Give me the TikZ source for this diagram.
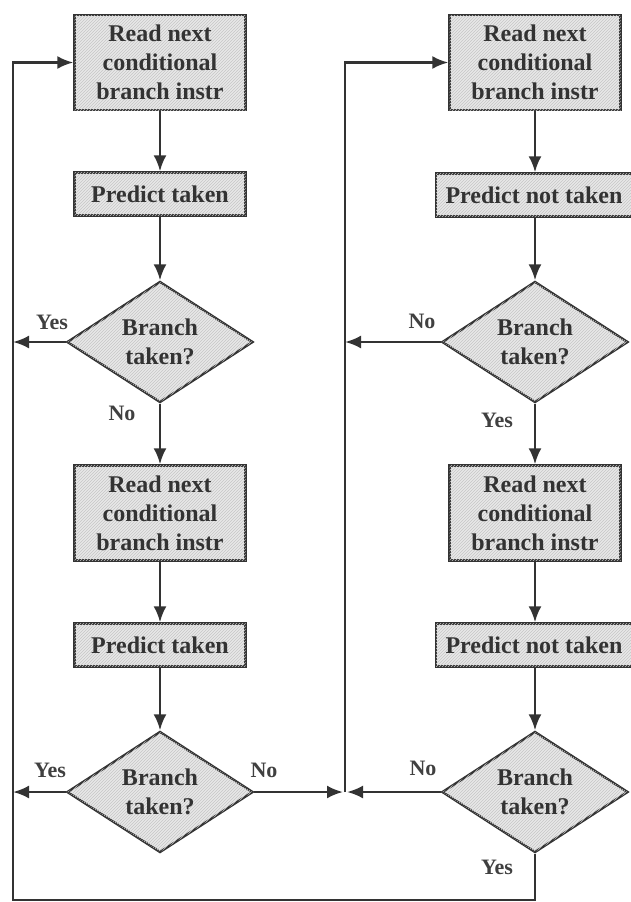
\documentclass[tikz,border=0pt]{standalone}
\usepackage{fontspec}
\setmainfont{Liberation Serif}
\usetikzlibrary{shapes.geometric,arrows.meta,patterns}
\tikzset{
  blk/.style={draw=black!80,line width=2.4pt,fill=gray!18,
    postaction={pattern=north east lines,pattern color=gray!45},
    align=center,inner sep=3pt,text=black!80,
    font=\fontsize{24}{29}\selectfont\bfseries},
  dec/.style={blk,diamond,aspect=1.54,inner sep=0pt,
    minimum width=186pt,minimum height=121pt},
  lbl/.style={text=black!75,font=\fontsize{22}{26}\selectfont\bfseries},
  flow/.style={draw=black!80,line width=2.5pt,-{Latex[length=16pt,width=13pt]}}
}
\begin{document}
\begin{tikzpicture}[x=1pt,y=-1pt]
\useasboundingbox (0,0) rectangle (631,902);
% left column
\node[blk,minimum width=171pt,minimum height=95pt] (rd1) at (160,62.5) {Read next\\conditional\\branch instr};
\node[blk,minimum width=171pt,minimum height=43pt] (pt1) at (160,194) {Predict taken};
\node[dec] (br1) at (160,342) {Branch\\taken?};
\node[blk,minimum width=171pt,minimum height=95pt] (rd3) at (160,513) {Read next\\conditional\\branch instr};
\node[blk,minimum width=171pt,minimum height=43pt] (pt3) at (160,645) {Predict taken};
\node[dec] (br3) at (160,792) {Branch\\taken?};
% right column
\node[blk,minimum width=171pt,minimum height=95pt] (rd2) at (535,62.5) {Read next\\conditional\\branch instr};
\node[blk,minimum width=196pt,minimum height=43pt] (pn2) at (534,195) {Predict not taken};
\node[dec] (br2) at (535,342) {Branch\\taken?};
\node[blk,minimum width=171pt,minimum height=95pt] (rd4) at (535,513) {Read next\\conditional\\branch instr};
\node[blk,minimum width=196pt,minimum height=43pt] (pn4) at (534,645) {Predict not taken};
\node[dec] (br4) at (535,792) {Branch\\taken?};
% rails
\coordinate (lb) at (13,900);
\coordinate (mm) at (345,792);
% labels
\node[lbl] (y1) at (52,322) {Yes};
\node[lbl] (n1) at (122,413) {No};
\node[lbl] (n2) at (422,321) {No};
\node[lbl] (y2) at (497,420) {Yes};
\node[lbl] (y3) at (50,770) {Yes};
\node[lbl] (n3) at (264,770) {No};
\node[lbl] (n4) at (423,768) {No};
\node[lbl] (y4) at (497,867) {Yes};
% connectors
\draw[flow] (rd1) -- (pt1);
\draw[flow] (pt1) -- (br1);
\draw[flow] (br1) -- (rd3);
\draw[flow] (rd3) -- (pt3);
\draw[flow] (pt3) -- (br3);
\draw[flow] (rd2) -- (rd2 |- pn2.north);
\draw[flow] (rd2 |- pn2.south) -- (br2);
\draw[flow] (br2) -- (rd4);
\draw[flow] (rd4) -- (rd4 |- pn4.north);
\draw[flow] (rd4 |- pn4.south) -- (br4);
\draw[flow] (br1.west) -- (br1.west -| lb);
\draw[flow] (br3.west) -- (br3.west -| lb);
\draw[flow] (br2.west) -- (br2.west -| mm);
\draw[flow,shorten >=2pt] (br3.east) -- (mm);
\draw[flow,shorten >=2pt] (br4.west) -- (mm);
\draw[flow] (mm) |- (rd2.west);
\draw[flow] (br4.south) |- (lb) |- (rd1.west);
\end{tikzpicture}
\end{document}
